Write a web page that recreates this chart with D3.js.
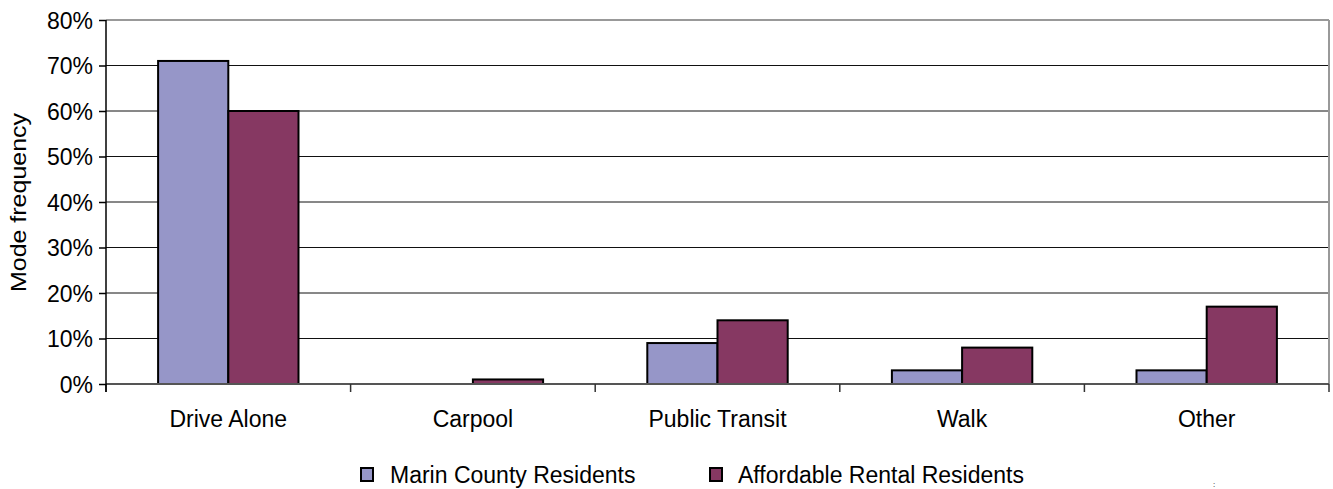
<!DOCTYPE html>
<html>
<head>
<meta charset="utf-8">
<script src="https://cdn.jsdelivr.net/npm/d3@7"></script>
<style>
  html, body { margin: 0; padding: 0; background: #fff; }
  svg { display: block; font-family: "Liberation Sans", Arial, sans-serif; }
</style>
</head>
<body>
<svg id="chart" width="1333" height="489"></svg>
<script>
const categories = ["Drive Alone", "Carpool", "Public Transit", "Walk", "Other"];
const seriesNames = ["Marin County Residents", "Affordable Rental Residents"];
const marinValues = [0.71, 0.0, 0.09, 0.03, 0.03];
const affordableValues = [0.60, 0.01, 0.14, 0.08, 0.17];
const yTicks = [0, 0.1, 0.2, 0.3, 0.4, 0.5, 0.6, 0.7, 0.8];
const colors = ["#9696c8", "#863862"];

const svg = d3.select("#chart");
const plotLeft = 106, plotRight = 1329, plotTop = 20, plotBottom = 384;
const FONT = "'Liberation Sans', Arial, sans-serif";

const x0 = d3.scaleBand().domain(categories).range([plotLeft, plotRight]).padding(0);
const bw = x0.bandwidth();
const x1 = d3.scaleBand().domain(seriesNames).range([bw * 0.213, bw * 0.787]).padding(0);
const y = d3.scaleLinear().domain([0, 0.8]).range([plotBottom, plotTop]);

// gridlines
svg.append("g").selectAll("line").data(yTicks.filter(t => t > 0 && t < 0.8)).join("line")
  .attr("x1", plotLeft).attr("x2", plotRight)
  .attr("y1", d => y(d)).attr("y2", d => y(d))
  .attr("stroke", "#111").attr("stroke-width", 1);

// top and right border
svg.append("line").attr("x1", plotLeft).attr("x2", plotRight).attr("y1", y(0.8)).attr("y2", y(0.8))
  .attr("stroke", "#999").attr("stroke-width", 2);
svg.append("line").attr("x1", plotRight).attr("x2", plotRight).attr("y1", y(0.8)).attr("y2", y(0))
  .attr("stroke", "#999").attr("stroke-width", 2);

// bars
const rows = categories.map((c, i) => ({ cat: c, vals: [marinValues[i], affordableValues[i]] }));
const groups = svg.append("g").selectAll("g").data(rows).join("g")
  .attr("transform", d => `translate(${x0(d.cat)},0)`);
groups.selectAll("rect").data(d => d.vals.map((v, j) => ({ v, s: seriesNames[j], j })).filter(e => e.v > 0))
  .join("rect")
  .attr("x", d => x1(d.s))
  .attr("width", x1.bandwidth())
  .attr("y", d => y(d.v))
  .attr("height", d => y(0) - y(d.v))
  .attr("fill", d => colors[d.j])
  .attr("stroke", "#000").attr("stroke-width", 2);

// bottom axis
svg.append("line").attr("x1", plotLeft).attr("x2", plotRight).attr("y1", y(0)).attr("y2", y(0))
  .attr("stroke", "#555").attr("stroke-width", 2);
const xAxis = d3.axisBottom(x0).tickSize(0).tickPadding(27);
const gx = svg.append("g").attr("transform", `translate(0,${y(0)})`).call(xAxis);
gx.select(".domain").remove();
gx.selectAll("text").attr("font-size", 23).attr("fill", "#000").attr("font-family", FONT);
// category boundary ticks
const bounds = categories.map(c => x0(c)).concat([plotRight]);
svg.append("g").selectAll("line").data(bounds).join("line")
  .attr("x1", d => d).attr("x2", d => d).attr("y1", y(0)).attr("y2", y(0) + 8)
  .attr("stroke", "#333").attr("stroke-width", 1.5);

// left axis
const yAxis = d3.axisLeft(y).tickValues(yTicks).tickFormat(d3.format(".0%")).tickSize(7).tickPadding(6);
const gy = svg.append("g").attr("transform", `translate(${plotLeft},0)`).call(yAxis);
gy.select(".domain").attr("stroke", "#000").attr("stroke-width", 1.5).attr("d", `M0,${plotTop}V${plotBottom + 8}`);
gy.selectAll(".tick line").attr("stroke", "#000").attr("stroke-width", 1.5);
gy.selectAll("text").attr("font-size", 23).attr("fill", "#000").attr("font-family", FONT).attr("dy", "0.36em");

// y label
svg.append("text")
  .attr("transform", `translate(26,${(113 + 292) / 2}) rotate(-90)`)
  .attr("text-anchor", "middle")
  .attr("font-size", 22).attr("font-family", FONT)
  .attr("textLength", 179).attr("lengthAdjust", "spacingAndGlyphs")
  .text("Mode frequency");

// legend
const legendItems = [
  { name: seriesNames[0], color: colors[0], sx: 361, tx: 390 },
  { name: seriesNames[1], color: colors[1], sx: 710, tx: 738 }
];
const lg = svg.append("g").selectAll("g").data(legendItems).join("g");
lg.append("rect").attr("x", d => d.sx).attr("y", 468).attr("width", 12).attr("height", 13)
  .attr("fill", d => d.color).attr("stroke", "#000").attr("stroke-width", 2);
lg.append("text").attr("x", d => d.tx).attr("y", 483).attr("font-size", 23).attr("font-family", FONT)
  .text(d => d.name);

// small stray mark near bottom right of the original
svg.append("text").attr("x", 1213).attr("y", 487).attr("font-size", 8).attr("font-family", FONT).text(":");
</script>
</body>
</html>
